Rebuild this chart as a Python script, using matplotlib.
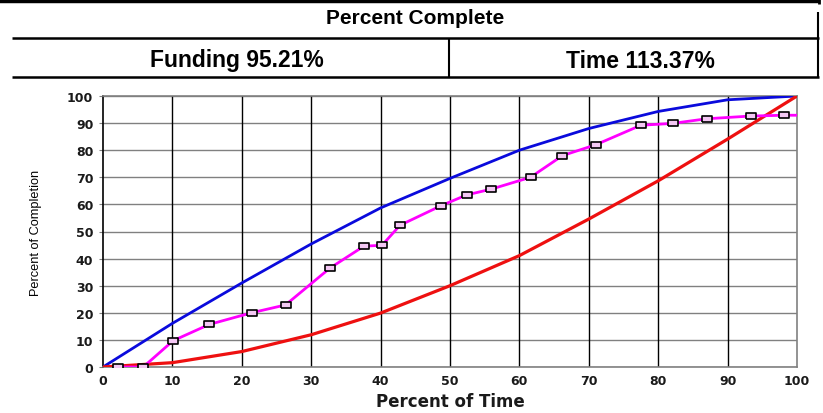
import matplotlib
matplotlib.use("Agg")
import matplotlib.pyplot as plt
from matplotlib import font_manager
from matplotlib.lines import Line2D

# --- data ---
time_pct = [2.1, 5.8, 10.1, 15.3, 21.4, 26.3, 32.7, 37.6, 40.2, 42.8, 48.7,
            52.4, 55.9, 61.6, 66.2, 71.0, 77.5, 82.1, 87.0, 93.3, 98.1, 100.0]
actual_pct = [0.0, 0.0, 9.7, 15.7, 20.0, 22.9, 36.5, 44.6, 44.9, 52.3, 59.5,
              63.5, 65.6, 70.0, 78.0, 82.0, 89.2, 89.9, 91.6, 92.6, 92.9, 92.9]
n_markers = 21

curve_x = [0, 10, 20, 30, 40, 50, 60, 70, 80, 90, 100]
upper_y = [0, 16.1, 31.0, 45.4, 58.7, 69.6, 80.0, 88.0, 94.3, 98.6, 100]
lower_y = [0, 1.6, 5.7, 11.9, 19.9, 30.0, 41.1, 54.6, 68.7, 84.1, 100]

ticks = list(range(0, 101, 10))
title_txt = "Percent Complete"
funding_txt = "Funding 95.21%"
time_txt = "Time 113.37%"

W, H = 823, 414
fig = plt.figure(figsize=(W / 100, H / 100), dpi=100)


def fx(px):
    return px / W


def fy(py):
    return 1 - py / H


def hline(y, x0, x1, lw):
    fig.add_artist(Line2D([fx(x0), fx(x1)], [fy(y), fy(y)], color="black",
                          lw=lw, transform=fig.transFigure, solid_capstyle="butt"))


def vline(x, y0, y1, lw):
    fig.add_artist(Line2D([fx(x), fx(x)], [fy(y0), fy(y1)], color="black",
                          lw=lw, transform=fig.transFigure, solid_capstyle="butt"))


# header table
hline(2, 0, 820, 3.2)
vline(122, 0, 4, 1.2)
vline(495, 0, 4, 1.2)
vline(819, 0, 5, 2)
hline(39, 12, 819, 1.8)
hline(78, 12, 819, 1.8)
vline(818, 13, 79, 1.5)
vline(449, 39, 78, 1.5)

hdr = dict(fontfamily="Liberation Sans", fontweight="bold",
           ha="center", va="center")
fig.text(fx(415), fy(19), title_txt, fontsize=15, **hdr)
fig.text(fx(237), fy(61), funding_txt, fontsize=16.5, **hdr)
fig.text(fx(640), fy(61), time_txt, fontsize=16.5, **hdr)

# chart
ax = fig.add_axes([fx(103), fy(368), fx(797) - fx(103), fy(97) - fy(368)])
ax.set_xlim(0, 100)
ax.set_ylim(0, 100)

for t in ticks:
    ax.axhline(t, color="#808080", lw=1.0, zorder=0)
for t in ticks[1:-1]:
    ax.axvline(t, color="black", lw=1.0, zorder=0)

ax.plot(curve_x, upper_y, color="#0a0adc", lw=2.0, zorder=3)
ax.plot(curve_x, lower_y, color="#ee1010", lw=2.3, zorder=3)
ax.plot(time_pct, actual_pct, color="#ff00ff", lw=2.0, zorder=4)
rect = [(-1.5, -1), (1.5, -1), (1.5, 1), (-1.5, 1), (-1.5, -1)]
ax.plot(time_pct[:n_markers], actual_pct[:n_markers], ls="none", marker=rect,
        ms=7, mfc="#f4c8f4", mec="black", mew=1.2, zorder=5)

for side in ("top", "right", "bottom"):
    ax.spines[side].set_color("#808080")
    ax.spines[side].set_linewidth(1.2)
ax.spines["left"].set_color("black")
ax.spines["left"].set_linewidth(1.2)

ax.set_xticks(ticks)
ax.set_yticks(ticks)
ax.tick_params(axis="y", length=3, color="#808080", pad=4)
ax.tick_params(axis="x", length=0, pad=5)
for lab in ax.get_xticklabels() + ax.get_yticklabels():
    lab.set_fontfamily("DejaVu Sans")
    lab.set_fontweight("bold")
    lab.set_fontsize(9)
    lab.set_color("#1a1a1a")

ax.set_xlabel("Percent of Time", fontfamily="DejaVu Sans",
              fontweight="bold", fontsize=12, labelpad=4, color="#1a1a1a")

# narrow face for the y label if it exists, else a smaller regular face
installed = {f.name for f in font_manager.fontManager.ttflist}
if "Liberation Sans Narrow" in installed:
    ylab_font, ylab_size = "Liberation Sans Narrow", 11.5
else:
    ylab_font, ylab_size = "Liberation Sans", 9.2
ax.set_ylabel("Percent of Completion", fontfamily=ylab_font,
              fontsize=ylab_size, labelpad=18)

fig.savefig("out.png", dpi=100)
